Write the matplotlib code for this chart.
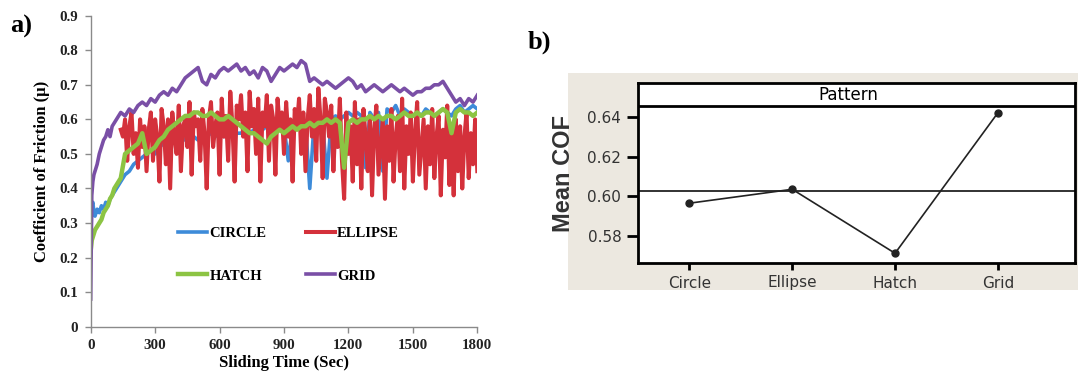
import numpy as np
import matplotlib
matplotlib.use("Agg")
import matplotlib.pyplot as plt
from matplotlib.patches import Rectangle

# ---------------- data: panel a ----------------
t_main = [0, 5, 10, 15, 20, 30, 40, 50, 60, 70, 80, 90, 100, 110] + list(range(120, 1801, 20))

grid_cof = [0.08, 0.38, 0.42, 0.44, 0.45, 0.47, 0.50, 0.52, 0.54, 0.55, 0.57, 0.55, 0.58, 0.59,
            0.60, 0.62, 0.61, 0.63, 0.62, 0.64, 0.65, 0.64, 0.66, 0.65,
            0.67, 0.68, 0.67, 0.69, 0.68, 0.70, 0.72, 0.73, 0.74, 0.75,
            0.71, 0.70, 0.73, 0.72, 0.74, 0.75, 0.74, 0.75, 0.76, 0.74,
            0.75, 0.73, 0.74, 0.72, 0.75, 0.74, 0.71, 0.73, 0.75, 0.74,
            0.75, 0.76, 0.75, 0.77, 0.76, 0.71, 0.72, 0.71, 0.70, 0.71,
            0.70, 0.69, 0.70, 0.71, 0.72, 0.71, 0.69, 0.70, 0.68, 0.69,
            0.70, 0.69, 0.68, 0.69, 0.70, 0.69, 0.68, 0.69, 0.68, 0.67,
            0.68, 0.68, 0.69, 0.69, 0.70, 0.70, 0.71, 0.69, 0.67, 0.65,
            0.66, 0.64, 0.66, 0.65, 0.67]

circle_cof = [0.25, 0.35, 0.36, 0.33, 0.32, 0.34, 0.33, 0.35, 0.34, 0.36, 0.35, 0.37, 0.38, 0.39,
              0.40, 0.42, 0.44, 0.45, 0.47, 0.48, 0.49, 0.50, 0.51, 0.50,
              0.52, 0.53, 0.52, 0.54, 0.53, 0.55, 0.54, 0.55, 0.55, 0.54,
              0.55, 0.55, 0.56, 0.55, 0.56, 0.55, 0.56, 0.57, 0.56, 0.56,
              0.57, 0.56, 0.57, 0.58, 0.57, 0.58, 0.57, 0.58, 0.57, 0.58,
              0.48, 0.58, 0.59, 0.58, 0.59, 0.40, 0.59, 0.60, 0.59, 0.43,
              0.60, 0.61, 0.60, 0.61, 0.62, 0.61, 0.62, 0.61, 0.46, 0.62,
              0.60, 0.62, 0.45, 0.63, 0.62, 0.64, 0.61, 0.63, 0.62, 0.61,
              0.62, 0.61, 0.63, 0.62, 0.61, 0.62, 0.63, 0.62, 0.61, 0.63,
              0.64, 0.62, 0.63, 0.64, 0.63]

hatch_cof = [0.22, 0.25, 0.26, 0.27, 0.28, 0.29, 0.30, 0.31, 0.33, 0.34, 0.35, 0.37, 0.38, 0.40,
             0.41, 0.43, 0.50, 0.51, 0.52, 0.53, 0.56, 0.50, 0.51, 0.52,
             0.54, 0.55, 0.57, 0.58, 0.59, 0.60, 0.61, 0.61, 0.62, 0.62,
             0.61, 0.61, 0.62, 0.61, 0.60, 0.60, 0.61, 0.60, 0.59, 0.58,
             0.57, 0.56, 0.56, 0.55, 0.54, 0.53, 0.55, 0.56, 0.57, 0.56,
             0.57, 0.58, 0.57, 0.58, 0.58, 0.59, 0.58, 0.59, 0.59, 0.60,
             0.59, 0.60, 0.59, 0.46, 0.59, 0.60, 0.59, 0.60, 0.60, 0.61,
             0.60, 0.61, 0.60, 0.61, 0.61, 0.60, 0.61, 0.62, 0.61, 0.61,
             0.62, 0.61, 0.62, 0.62, 0.61, 0.62, 0.63, 0.62, 0.56, 0.62,
             0.63, 0.62, 0.62, 0.61, 0.62]

t_ellipse = list(range(140, 1801, 10))
ellipse_cof = [0.57, 0.55, 0.60, 0.48, 0.58, 0.62, 0.50, 0.56, 0.46, 0.60, 0.52, 0.58, 0.45, 0.57, 0.62, 0.48, 0.60,
               0.55, 0.42, 0.63, 0.58, 0.47, 0.60, 0.40, 0.62, 0.55, 0.50, 0.64, 0.45, 0.58, 0.60, 0.52, 0.65, 0.44, 0.62, 0.58, 0.60,
               0.48, 0.63, 0.56, 0.40, 0.60, 0.65, 0.52, 0.58, 0.62, 0.44, 0.66, 0.55, 0.61, 0.48, 0.68, 0.58, 0.42, 0.64, 0.60, 0.67,
               0.55, 0.62, 0.45, 0.68, 0.58, 0.63, 0.50, 0.66, 0.42, 0.62, 0.58, 0.67, 0.48, 0.64, 0.60, 0.44, 0.66, 0.58, 0.62, 0.50,
               0.65, 0.55, 0.60, 0.42, 0.63, 0.58, 0.66, 0.50, 0.62, 0.45, 0.60, 0.67, 0.55, 0.63, 0.48, 0.69, 0.60, 0.43, 0.66, 0.62,
               0.55, 0.64, 0.45, 0.60, 0.52, 0.66, 0.48, 0.37, 0.62, 0.50, 0.58, 0.42, 0.65, 0.47, 0.60, 0.40, 0.63, 0.55, 0.45, 0.61,
               0.38, 0.57, 0.64, 0.44, 0.52, 0.60, 0.37, 0.58, 0.48, 0.63, 0.42, 0.55, 0.61, 0.45, 0.66, 0.40, 0.58, 0.50, 0.62, 0.42,
               0.56, 0.65, 0.44, 0.52, 0.60, 0.40, 0.58, 0.47, 0.63, 0.43, 0.55, 0.61, 0.38, 0.57, 0.49, 0.64, 0.41, 0.56, 0.38, 0.60,
               0.45, 0.58, 0.40, 0.55, 0.62, 0.43, 0.56, 0.47, 0.60, 0.45]

x_ticks_a = [0, 300, 600, 900, 1200, 1500, 1800]
y_ticks_a = [0, 0.1, 0.2, 0.3, 0.4, 0.5, 0.6, 0.7, 0.8, 0.9]

# ---------------- data: panel b ----------------
patterns = ["Circle", "Ellipse", "Hatch", "Grid"]
mean_cof = [0.5965, 0.6035, 0.5713, 0.642]
grand_mean = 0.6028
y_ticks_b = [0.58, 0.60, 0.62, 0.64]

# ---------------- figure ----------------
W, H = 1078, 381
fig = plt.figure(figsize=(W / 100, H / 100), dpi=100)

serif = "Liberation Serif"

axa = fig.add_axes([90.7 / W, 1 - 326.7 / H, (477.3 - 90.7) / W, (326.7 - 15.7) / H])
c_blue, c_red, c_green, c_purple = "#3d8bd9", "#d4313b", "#8cc443", "#7a4fa6"
lw = 2.6
l1, = axa.plot(t_main, circle_cof, color=c_blue, lw=lw, label="CIRCLE")
l2, = axa.plot(t_ellipse, ellipse_cof, color=c_red, lw=lw + 0.3, label="ELLIPSE")
l3, = axa.plot(t_main, hatch_cof, color=c_green, lw=lw + 0.6, label="HATCH")
l4, = axa.plot(t_main, grid_cof, color=c_purple, lw=lw, label="GRID")
axa.set_xlim(0, 1800)
axa.set_ylim(0, 0.9)
axa.set_xticks(x_ticks_a)
axa.set_yticks(y_ticks_a)
axa.set_yticklabels(["0" if v == 0 else f"{v:.1f}" for v in y_ticks_a])
for s in ["top", "right"]:
    axa.spines[s].set_visible(False)
for s in ["left", "bottom"]:
    axa.spines[s].set_color("#8a8a8a")
    axa.spines[s].set_linewidth(1.0)
axa.tick_params(direction="out", length=4, color="#8a8a8a", width=1.0, pad=5)
for lab in axa.get_xticklabels() + axa.get_yticklabels():
    lab.set_fontfamily(serif)
    lab.set_fontweight("bold")
    lab.set_fontsize(10.8)
    lab.set_color("#222222")
axa.set_xlabel("Sliding Time (Sec)", fontfamily=serif, fontweight="bold", fontsize=12, labelpad=2)
axa.set_ylabel("Coefficient of Friction (µ)", fontfamily=serif, fontweight="bold", fontsize=12, labelpad=7)
fig.legend(handles=[l1, l3, l2, l4], ncol=2, frameon=False, loc="upper left",
           bbox_to_anchor=(178 / W, 1 - 227 / H), borderpad=0, borderaxespad=0,
           handlelength=2.0, handletextpad=0.15, columnspacing=2.7, labelspacing=2.0,
           prop={"family": serif, "weight": "bold", "size": 10.5})
fig.text(10 / W, 1 - 26 / H, "a)", fontfamily=serif, fontweight="bold", fontsize=19, va="center", ha="left")

# ---------------- panel b ----------------
fig.patches.append(Rectangle((568 / W, 1 - 290 / H), (W - 568) / W, 217 / H,
                             transform=fig.transFigure, facecolor="#ece8e0", edgecolor="none", zorder=-5))
fig.text(528 / W, 1 - 42 / H, "b)", fontfamily=serif, fontweight="bold", fontsize=19, va="center", ha="left")

axb = fig.add_axes([638 / W, 1 - 263 / H, (1075 - 638) / W, (263 - 83) / H])
axb.set_zorder(2)
axb.set_facecolor("white")
xb = np.arange(len(patterns))
axb.plot(xb, mean_cof, color="#222222", lw=1.2, marker="o", ms=5, zorder=3)
axb.axhline(grand_mean, color="#222222", lw=1.3)
header_y = 0.6454
axb.axhline(header_y, color="black", lw=2.0)
axb.set_xlim(-0.5, 3.75)
axb.set_ylim(0.5664, 0.657)
axb.text(1.55, (header_y + 0.657) / 2, "Pattern", ha="center", va="center",
         fontfamily="DejaVu Sans", fontsize=12)
axb.set_xticks(xb)
axb.set_xticklabels(patterns, fontfamily="DejaVu Sans", fontsize=11, color="#333333")
axb.set_yticks(y_ticks_b)
axb.set_yticklabels([f"{v:.2f}" for v in y_ticks_b], fontfamily="DejaVu Sans", fontsize=11, color="#333333")
for s in axb.spines.values():
    s.set_linewidth(2.0)
    s.set_color("black")
axb.tick_params(axis="y", direction="out", length=8, width=2.0, pad=4)
axb.tick_params(axis="x", direction="out", length=5, width=2.0, pad=4)
axb.set_ylabel("Mean COF", fontfamily="Liberation Sans", fontweight="bold", fontsize=17, labelpad=9, color="#333333")

fig.savefig("out.png", dpi=100)
